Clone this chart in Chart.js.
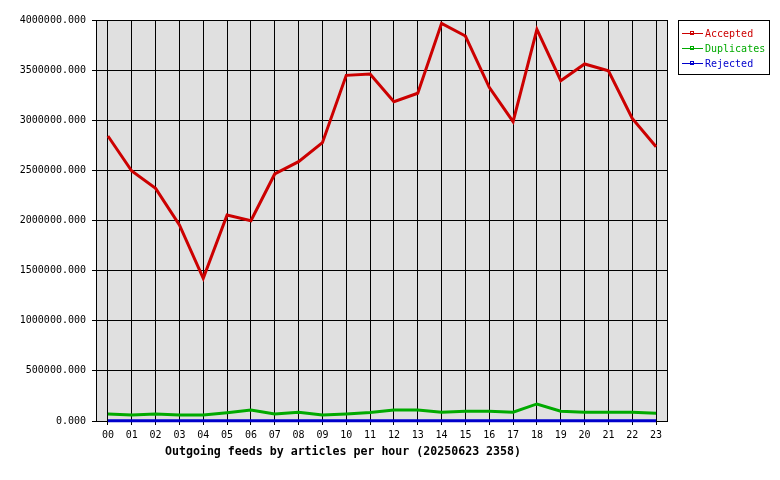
<!DOCTYPE html>
<html>
<head>
<meta charset="utf-8">
<script src="https://cdn.jsdelivr.net/npm/chart.js@4/dist/chart.umd.min.js"></script>
<style>
  html, body { margin: 0; padding: 0; background: #fff; }
  canvas { display: block; }
</style>
</head>
<body>
<canvas id="feeds" width="780" height="480"></canvas>
<script>
const hours = ['00','01','02','03','04','05','06','07','08','09','10','11',
               '12','13','14','15','16','17','18','19','20','21','22','23'];
const accepted = [2843000, 2494000, 2321000, 1955000, 1423000, 2055000, 1998000, 2464000,
                  2587000, 2776000, 3448000, 3461000, 3185000, 3269000, 3967000, 3840000,
                  3329000, 2986000, 3907000, 3395000, 3561000, 3494000, 3019000, 2736000];
const duplicates = [70000, 60000, 70000, 60000, 60000, 83000, 110000, 70000,
                    87000, 60000, 70000, 85000, 110000, 110000, 87000, 97000,
                    97000, 87000, 170000, 97000, 87000, 87000, 87000, 77000];
const rejected = [2000, 2000, 2000, 2000, 2000, 2000, 2000, 2000,
                  2000, 2000, 2000, 2000, 2000, 2000, 2000, 2000,
                  2000, 2000, 2000, 2000, 2000, 2000, 2000, 2000];
const yTicks = [0, 500000, 1000000, 1500000, 2000000, 2500000, 3000000, 3500000, 4000000];
const title = 'Outgoing feeds by articles per hour (20250623 2358)';

const mono = '"DejaVu Sans Mono", "Liberation Mono", monospace';

// grey plot background + frame
const plotFrame = {
  id: 'plotFrame',
  beforeDraw(chart) {
    const a = chart.chartArea, ctx = chart.ctx;
    ctx.save();
    ctx.fillStyle = '#e0e0e0';
    ctx.fillRect(a.left, a.top, a.right - a.left, a.bottom - a.top);
    ctx.restore();
  },
  beforeDatasetsDraw(chart) {
    const a = chart.chartArea, ctx = chart.ctx;
    ctx.save();
    ctx.strokeStyle = '#000';
    ctx.lineWidth = 1;
    ctx.strokeRect(a.left + 0.5, a.top + 0.5, a.right - a.left - 1, a.bottom - a.top);
    ctx.restore();
  }
};

// boxed legend on the right + bottom caption
const sideLegend = {
  id: 'sideLegend',
  afterDraw(chart) {
    const ctx = chart.ctx;
    ctx.save();
    ctx.fillStyle = '#fff';
    ctx.fillRect(678, 20, 92, 55);
    ctx.strokeStyle = '#000';
    ctx.lineWidth = 1;
    ctx.strokeRect(678.5, 20.5, 91, 54);
    ctx.font = '10px ' + mono;
    ctx.textBaseline = 'middle';
    chart.data.datasets.forEach((ds, i) => {
      const y = 33 + i * 15;
      ctx.strokeStyle = ds.borderColor;
      ctx.beginPath();
      ctx.moveTo(682, y + 0.5);
      ctx.lineTo(703, y + 0.5);
      ctx.stroke();
      ctx.strokeRect(690.5, y - 1.5, 3, 3);
      ctx.fillStyle = ds.borderColor;
      ctx.fillText(ds.label, 705, y + 1);
    });
    ctx.font = 'bold 11.6px ' + mono;
    ctx.fillStyle = '#000';
    ctx.textAlign = 'center';
    ctx.fillText(title, 343, 452);
    ctx.restore();
  }
};

new Chart(document.getElementById('feeds'), {
  type: 'line',
  data: {
    labels: hours,
    datasets: [
      { label: 'Accepted', data: accepted, borderColor: '#cc0000', clip: 4 },
      { label: 'Duplicates', data: duplicates, borderColor: '#00aa00', clip: 4 },
      { label: 'Rejected', data: rejected, borderColor: '#0000cc', clip: 4 }
    ]
  },
  options: {
    responsive: false,
    animation: false,
    devicePixelRatio: 1,
    layout: { padding: { top: 20, right: 112, left: 0, bottom: 0 } },
    elements: {
      line: { borderWidth: 3, tension: 0, borderCapStyle: 'butt' },
      point: { radius: 0 }
    },
    plugins: {
      legend: { display: false },
      tooltip: { enabled: false }
    },
    scales: {
      x: {
        offset: true,
        grid: { offset: false, color: '#000', lineWidth: 1, tickLength: 4, drawTicks: true },
        border: { display: false },
        ticks: { color: '#000', font: { family: mono, size: 10 }, padding: 4, maxRotation: 0, autoSkip: false },
        afterFit(s) { s.height = 59; }
      },
      y: {
        min: 0,
        max: 4000000,
        afterBuildTicks(s) { s.ticks = yTicks.map(v => ({ value: v })); },
        grid: { color: '#000', lineWidth: 1, tickLength: 4 },
        border: { display: false },
        ticks: {
          color: '#000',
          font: { family: mono, size: 10 },
          padding: 6,
          callback: v => Number(v).toFixed(3)
        },
        afterFit(s) { s.width = 96; }
      }
    }
  },
  plugins: [plotFrame, sideLegend]
});
</script>
</body>
</html>
